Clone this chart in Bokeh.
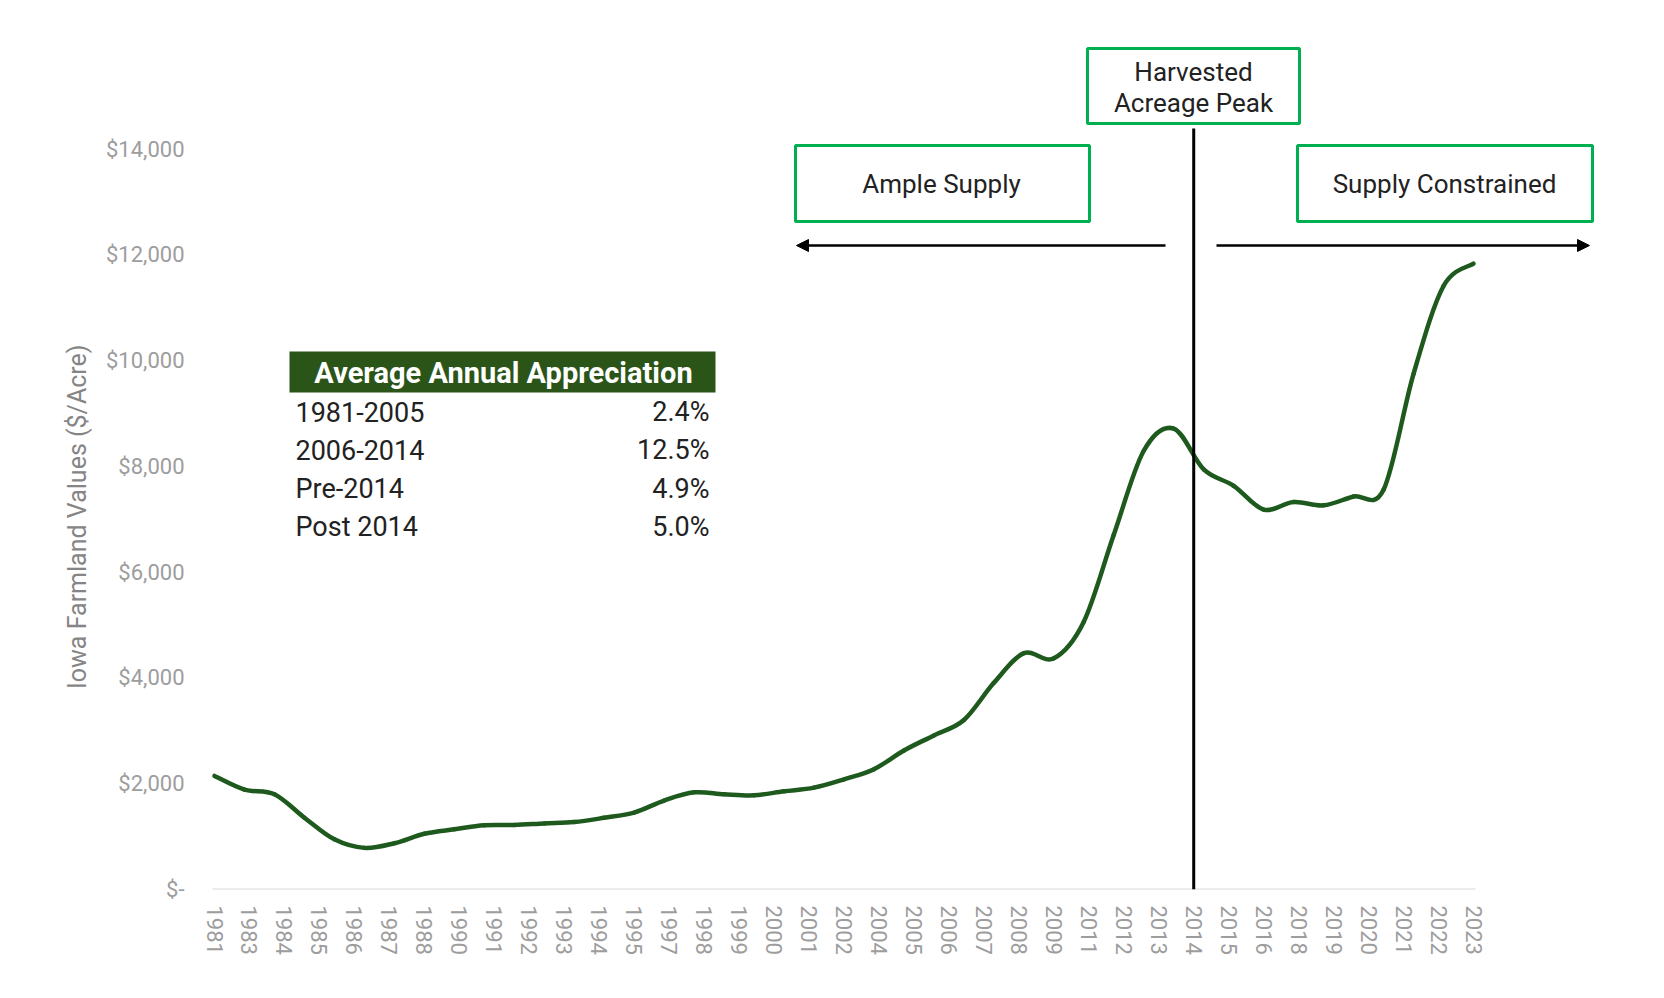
import numpy as np
from bokeh.plotting import figure
from bokeh.models import (ColumnDataSource, FixedTicker, CustomJSTickFormatter, Range1d,
                          BoxAnnotation, Label, Arrow, NormalHead, Title)
from bokeh.core.properties import value
from bokeh.embed import file_html
from bokeh.resources import INLINE

# ---------------- data ----------------
years = list(range(1981, 2024))
land_values = [2147, 1889, 1801, 1357, 948, 787, 875, 1054, 1139, 1214, 1219, 1249, 1275,
               1356, 1455, 1682, 1837, 1801, 1781, 1857, 1926, 2083, 2275, 2629, 2914, 3204,
               3908, 4468, 4371, 5064, 6708, 8296, 8716, 7943, 7633, 7183, 7326, 7264, 7432,
               7559, 9751, 11411, 11835]

x_tick_labels = ["1981", "1983", "1984", "1985", "1986", "1987", "1988", "1990", "1991",
                 "1992", "1993", "1994", "1995", "1997", "1998", "1999", "2000", "2001",
                 "2002", "2004", "2005", "2006", "2007", "2008", "2009", "2011", "2012",
                 "2013", "2014", "2015", "2016", "2018", "2019", "2020", "2021", "2022", "2023"]
y_ticks = [0, 2000, 4000, 6000, 8000, 10000, 12000, 14000]
y_title = "Iowa Farmland Values ($/Acre)"

table_title = "Average Annual Appreciation"
periods = ["1981-2005", "2006-2014", "Pre-2014", "Post 2014"]
rates = ["2.4%", "12.5%", "4.9%", "5.0%"]

peak_label = "2014"
box_texts = {"peak": ["Harvested", "Acreage Peak"],
             "ample": ["Ample Supply"],
             "constrained": ["Supply Constrained"]}

# ---------------- layout helpers (page pixels -> data) ----------------
FONT = "Roboto"
FR_L, FR_R, FR_T, FR_B = 200, 1610, 40, 889        # frame in page px
PX_PER_YEAR = (1473 - 214) / 42.0
X0 = 1981 - (214 - FR_L) / PX_PER_YEAR
X1 = X0 + (FR_R - FR_L) / PX_PER_YEAR
PX_PER_VAL = (889 - 148.6) / 14000.0
Y1 = (FR_B - FR_T) / PX_PER_VAL


def px2x(px):
    return X0 + (px - FR_L) / PX_PER_YEAR


def px2y(py):
    return (FR_B - py) / PX_PER_VAL


p = figure(frame_width=FR_R - FR_L, frame_height=FR_B - FR_T,
           min_border_left=FR_L, min_border_right=20, min_border_top=FR_T,
           min_border_bottom=84,
           x_range=Range1d(X0, X1), y_range=Range1d(0, Y1),
           output_backend="svg", toolbar_location=None,
           background_fill_color="white", border_fill_color="white")
p.outline_line_color = None
p.xgrid.grid_line_color = None
p.ygrid.grid_line_color = None

# x axis
tick_pos = list(np.linspace(years[0], years[-1], len(x_tick_labels)))
p.xaxis.ticker = FixedTicker(ticks=tick_pos)
p.xaxis.formatter = CustomJSTickFormatter(args=dict(labels=x_tick_labels),
                                          code="return labels[index];")
p.xaxis.major_label_orientation = "vertical"
p.xaxis.axis_line_color = None
p.xaxis.major_tick_line_color = None
p.xaxis.minor_tick_line_color = None
p.xaxis.major_label_standoff = 10
p.xaxis.major_label_text_font = FONT
p.xaxis.major_label_text_font_size = "22px"
p.xaxis.major_label_text_color = "#9d9d9d"

# y axis
p.yaxis.ticker = FixedTicker(ticks=y_ticks)
p.yaxis.formatter = CustomJSTickFormatter(
    code='return tick == 0 ? "$-" : "$" + tick.toLocaleString("en-US");')
p.yaxis.axis_line_color = None
p.yaxis.major_tick_line_color = None
p.yaxis.minor_tick_line_color = None
p.yaxis.major_label_standoff = 10
p.yaxis.major_label_text_font = FONT
p.yaxis.major_label_text_font_size = "22px"
p.yaxis.major_label_text_color = "#9d9d9d"

# y axis title, placed beside the axis and centred on the 0-14000 span
TITLE_LEN = 341
p.add_layout(Title(text=y_title, align="left", offset=FR_B - (518 + TITLE_LEN / 2),
                   standoff=22, text_font=FONT, text_font_size="25px",
                   text_font_style="normal", text_color="#858585"), "left")

# baseline
p.segment(x0=[px2x(212)], y0=[0], x1=[px2x(1475)], y1=[0],
          line_color="#d9d9d9", line_width=2)

# smoothed line (Bezier segments through the data points)
xs = np.array(years, dtype=float)
ys = np.array(land_values, dtype=float)
n = len(xs)
idx = np.arange(n - 1)
prev_i = np.clip(idx - 1, 0, n - 1)
next2 = np.clip(idx + 2, 0, n - 1)
src = ColumnDataSource(dict(
    x0=xs[idx], y0=ys[idx], x1=xs[idx + 1], y1=ys[idx + 1],
    cx0=xs[idx] + (xs[idx + 1] - xs[prev_i]) / 6.0,
    cy0=ys[idx] + (ys[idx + 1] - ys[prev_i]) / 6.0,
    cx1=xs[idx + 1] - (xs[next2] - xs[idx]) / 6.0,
    cy1=ys[idx + 1] - (ys[next2] - ys[idx]) / 6.0,
))
p.bezier(x0="x0", y0="y0", x1="x1", y1="y1", cx0="cx0", cy0="cy0", cx1="cx1", cy1="cy1",
         source=src, line_color="#1e5a1e", line_width=4.5, line_cap="round")

# vertical "harvested acreage peak" line
peak_x = tick_pos[x_tick_labels.index(peak_label)]
p.segment(x0=[peak_x], y0=[0], x1=[peak_x], y1=[px2y(128)],
          line_color="black", line_width=3)

# boxes
GREEN = "#00b050"
for (l, r, t, b) in [(1087, 1299, 48, 123), (795, 1089, 145, 221), (1297, 1592, 145, 221)]:
    p.add_layout(BoxAnnotation(left=px2x(l), right=px2x(r), top=px2y(t), bottom=px2y(b),
                               fill_color="white", fill_alpha=1.0,
                               line_color=GREEN, line_width=3, line_alpha=1.0))


def add_label(txt, px, py, size="26px", color="#222222", style="normal", align="center"):
    p.add_layout(Label(x=px2x(px), y=px2y(py), text=txt, text_align=align,
                       text_baseline="middle", text_font=FONT, text_font_size=size,
                       text_color=color, text_font_style=style))


add_label(box_texts["peak"][0], 1193, 71)
add_label(box_texts["peak"][1], 1193, 102)
add_label(box_texts["ample"][0], 941, 183)
add_label(box_texts["constrained"][0], 1444, 183)

# arrows
p.add_layout(Arrow(x_start=px2x(1165), y_start=px2y(245), x_end=px2x(796), y_end=px2y(245),
                   line_width=2.5, line_color="black",
                   end=NormalHead(size=12, fill_color="black", line_color="black")))
p.add_layout(Arrow(x_start=px2x(1216), y_start=px2y(245), x_end=px2x(1589), y_end=px2y(245),
                   line_width=2.5, line_color="black",
                   end=NormalHead(size=12, fill_color="black", line_color="black")))

# table
p.add_layout(BoxAnnotation(left=px2x(289), right=px2x(715), top=px2y(351), bottom=px2y(392),
                           fill_color="#2b5418", fill_alpha=1.0, line_color=None))
add_label(table_title, 503, 372, size="29px", color="white", style="bold")
row_y = [px2y(411 + 38.5 * i) for i in range(len(periods))]
tsrc = ColumnDataSource(dict(period=periods, rate=rates, y=row_y,
                             xl=[px2x(295)] * len(periods), xr=[px2x(709)] * len(periods)))
p.text(x="xl", y="y", text="period", source=tsrc, text_align="left", text_baseline="middle",
       text_font=value(FONT), text_font_size="27px", text_color="#222222")
p.text(x="xr", y="y", text="rate", source=tsrc, text_align="right", text_baseline="middle",
       text_font=value(FONT), text_font_size="27px", text_color="#222222")

open("out.html", "w").write(file_html(p, INLINE))
